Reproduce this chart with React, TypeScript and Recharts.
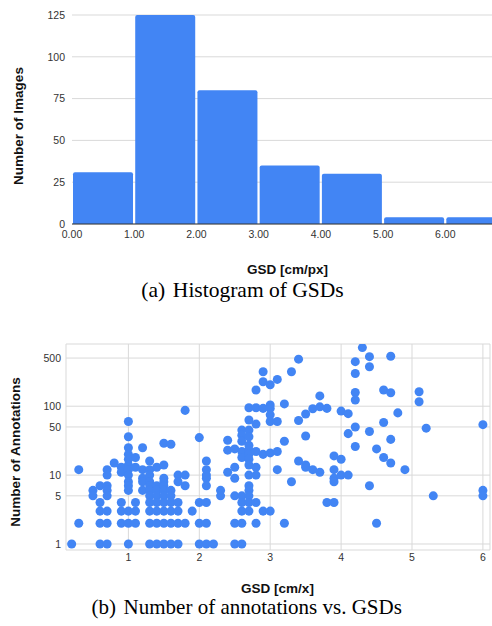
import React from 'react';
import {
  BarChart, Bar, XAxis, YAxis, CartesianGrid,
  ScatterChart, Scatter, ZAxis,
} from 'recharts';

// ---------- Histogram data ----------
const binCenters = [0.5, 1.5, 2.5, 3.5, 4.5, 5.5, 6.5];
const imageCounts = [31, 125, 80, 35, 30, 4, 4];
const histXTicks = [0, 1, 2, 3, 4, 5, 6];
const histYTicks = [0, 25, 50, 75, 100, 125];

// ---------- Scatter data (GSD columns and annotation counts per column) ----------
const gsdColumns = [
  0.2, 0.3, 0.5, 0.6, 0.7, 0.8, 0.9, 1.0, 1.1, 1.2, 1.3, 1.4, 1.5, 1.6, 1.7, 1.8, 1.9,
  2.0, 2.1, 2.2, 2.3, 2.4, 2.5, 2.6, 2.7, 2.8, 2.9, 3.0, 3.1, 3.2, 3.3, 3.4, 3.5, 3.6,
  3.7, 3.8, 3.9, 4.0, 4.1, 4.2, 4.3, 4.4, 4.5, 4.6, 4.7, 4.8, 4.9, 5.1, 5.2, 5.3, 6.0,
];
const annotationsByColumn = [
  [1],
  [12, 2],
  [6, 5],
  [7, 4, 3, 2, 1],
  [12, 10, 7, 6, 5, 3, 2, 1],
  [15],
  [13, 11, 4, 3, 2],
  [60, 36, 25, 20, 17, 14, 12, 10, 8, 7, 6, 3, 2, 1],
  [18, 13, 4, 3, 2],
  [25, 12, 9, 8, 6],
  [16, 12, 10, 8, 7, 6, 5, 4, 3, 2, 1],
  [13, 7, 6, 5, 4, 3, 2, 1],
  [29, 14, 9, 8, 7, 6, 5, 4, 3, 2, 1],
  [28, 6, 5, 4, 3, 2, 1],
  [10, 8, 4, 3, 2, 1],
  [87, 10, 7, 2],
  [3],
  [35, 4, 2, 1],
  [16, 12, 10, 9, 7, 4, 2, 1],
  [1],
  [6, 5],
  [32, 23, 11],
  [24, 13, 9, 5, 2, 1],
  [45, 38, 31, 22, 18, 5, 4, 3, 2, 1],
  [95, 63, 45, 36, 27, 23, 20, 17, 14, 10, 7, 6, 5, 4, 3],
  [172, 95, 55, 22, 13, 10, 4, 2],
  [317, 227, 93, 20, 3],
  [205, 104, 93, 75, 60, 21, 3],
  [245, 60, 22, 12],
  [108, 31, 2],
  [317, 8],
  [482, 62, 16],
  [77, 37, 14, 13],
  [92, 12],
  [141, 98, 11],
  [93, 4],
  [19, 12, 9, 8, 4],
  [85, 17, 10],
  [78, 40, 10],
  [443, 298, 158, 123, 50, 26],
  [710],
  [524, 374, 43, 7],
  [24, 2],
  [172, 58, 18],
  [532, 157, 33, 15],
  [80],
  [12],
  [162, 116],
  [48],
  [5],
  [54, 6, 5],
];
const scatterXTicks = [1, 2, 3, 4, 5, 6];
const scatterYTicks = [1, 5, 10, 50, 100, 500];

const histData = binCenters.map((x, i) => ({ x, count: imageCounts[i] }));
const scatterData = gsdColumns.flatMap((x, i) =>
  annotationsByColumn[i].map((y) => ({ x, y }))
);

const BLUE = '#4285F4';
const GRID = '#d9d9d9';
const SANS = "Arial, 'Liberation Sans', sans-serif";
const SERIF = "'Liberation Serif', 'Times New Roman', serif";
const tickStyle = { fontSize: 10.5, fill: '#333', fontFamily: SANS };

export default function App() {
  return (
    <div style={{ position: 'absolute', left: 0, top: 0, width: 492, height: 626, background: '#fff', overflow: 'hidden' }}>
      <div style={{ position: 'absolute', left: 0, top: 0 }}>
        <BarChart width={492} height={250} data={histData} margin={{ top: 15, right: 0, left: 0, bottom: 0 }}>
          <CartesianGrid vertical={false} stroke={GRID} />
          <XAxis
            dataKey="x"
            type="number"
            domain={[0, 6.75]}
            ticks={histXTicks}
            interval={0}
            tickFormatter={(v: number) => v.toFixed(2)}
            tickLine={false}
            tickSize={5}
            tickMargin={2}
            height={26}
            axisLine={{ stroke: '#333' }}
            tick={tickStyle}
          />
          <YAxis
            type="number"
            domain={[0, 125]}
            ticks={histYTicks}
            interval={0}
            axisLine={false}
            tickLine={false}
            tickSize={5}
            tickMargin={2}
            width={72}
            tick={tickStyle}
          />
          <Bar dataKey="count" fill={BLUE} barSize={60} radius={[2, 2, 0, 0]} isAnimationActive={false} />
        </BarChart>
      </div>
      <div style={{ position: 'absolute', left: 0, top: 330 }}>
        <ScatterChart width={492} height={240} margin={{ top: 14, right: 2, left: 0, bottom: 0 }}>
          <CartesianGrid stroke={GRID} />
          <XAxis
            type="number"
            dataKey="x"
            domain={[0.12, 6.1]}
            ticks={scatterXTicks}
            interval={0}
            allowDataOverflow
            axisLine={false}
            tickLine={false}
            tickSize={2}
            tickMargin={2}
            height={20}
            tick={tickStyle}
          />
          <YAxis
            type="number"
            dataKey="y"
            scale="log"
            domain={[0.818, 800]}
            ticks={scatterYTicks}
            interval={0}
            allowDataOverflow
            axisLine={false}
            tickLine={false}
            tickSize={3}
            tickMargin={2}
            width={66}
            tick={tickStyle}
          />
          <ZAxis range={[38, 38]} />
          <Scatter data={scatterData} fill={BLUE} isAnimationActive={false} />
        </ScatterChart>
      </div>
      <svg width={492} height={626} style={{ position: 'absolute', left: 0, top: 0, pointerEvents: 'none' }}>
        <text transform="translate(23,126) rotate(-90)" textAnchor="middle" fontFamily={SANS} fontWeight="bold" fontSize={13.5} fill="#111">
          Number of Images
        </text>
        <text x={287.5} y={274} textAnchor="middle" fontFamily={SANS} fontWeight="bold" fontSize={13.5} fill="#111">
          GSD [cm/px]
        </text>
        <text x={242.5} y={296.7} textAnchor="middle" fontFamily={SERIF} fontSize={21.5} fill="#000">
          <tspan>(a) </tspan>
          <tspan dx={2.3}>Histogram of GSDs</tspan>
        </text>
        <text transform="translate(20,452) rotate(-90)" textAnchor="middle" fontFamily={SANS} fontWeight="bold" fontSize={13.5} fill="#111">
          Number of Annotations
        </text>
        <text x={277.5} y={592.5} textAnchor="middle" fontFamily={SANS} fontWeight="bold" fontSize={13.5} fill="#111">
          GSD [cm/x]
        </text>
        <text x={246.7} y={613.5} textAnchor="middle" fontFamily={SERIF} fontSize={21} fill="#000">
          <tspan>(b) </tspan>
          <tspan dx={2.3}>Number of annotations vs. GSDs</tspan>
        </text>
      </svg>
    </div>
  );
}
